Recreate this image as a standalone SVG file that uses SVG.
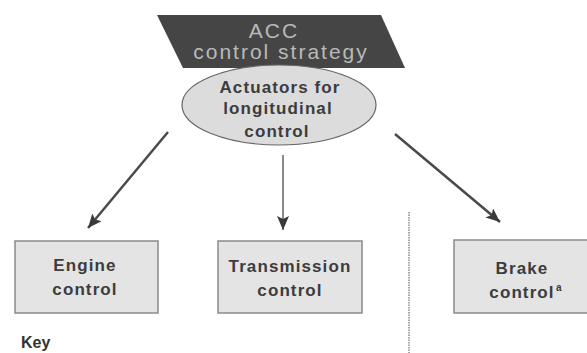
<svg xmlns="http://www.w3.org/2000/svg" width="587" height="353" viewBox="0 0 587 353">
<style>
.box{fill:#e4e4e4;stroke:#8a8a8a;stroke-width:1.5}
.t{font-family:"Liberation Sans",Arial,sans-serif;font-size:17px;font-weight:bold;fill:#3c3c3c;text-anchor:middle;letter-spacing:1.1px}
.head{font-family:"Liberation Sans",Arial,sans-serif;font-size:21px;fill:#b9b9b9;text-anchor:middle;letter-spacing:2px}
.conn{stroke:#4a4a4a;fill:none}
</style>
<defs>
<marker id="ah" viewBox="0 0 14 12" refX="14" refY="6" markerWidth="14" markerHeight="12" markerUnits="userSpaceOnUse" orient="auto">
<path d="M0,0 L14,6 L0,12 L3,6 z" fill="#3a3a3a"/>
</marker>
</defs>
<rect width="587" height="353" fill="#ffffff"/>
<g id="strategy">
<polygon points="157,15 381,15 405,68 183,68" fill="#454545"/>
<text class="head" x="274" y="38">ACC</text>
<text class="head" x="281" y="59">control strategy</text>
</g>
<g id="actuators">
<ellipse cx="279" cy="105" rx="97" ry="40" fill="#dcdcdc" stroke="#666" stroke-width="1.2"/>
<text class="t" x="280" y="93">Actuators for</text>
<text class="t" x="278" y="114">longitudinal</text>
<text class="t" x="277" y="137">control</text>
</g>
<g id="connectors">
<line class="conn" x1="168" y1="132" x2="88" y2="228" stroke-width="2.5" marker-end="url(#ah)"/>
<line class="conn" x1="283" y1="155" x2="283" y2="230" stroke-width="1.3" marker-end="url(#ah)"/>
<line class="conn" x1="395" y1="134" x2="500" y2="222" stroke-width="2.5" marker-end="url(#ah)"/>
</g>
<g id="engine">
<rect class="box" x="15" y="241" width="143" height="72"/>
<text class="t" x="85" y="271">Engine</text>
<text class="t" x="85" y="295">control</text>
</g>
<g id="transmission">
<rect class="box" x="218" y="241" width="144" height="72"/>
<text class="t" x="290" y="272">Transmission</text>
<text class="t" x="290" y="296">control</text>
</g>
<g id="separator">
<line x1="409" y1="212" x2="409" y2="353" stroke="#8a8a8a" stroke-width="1.5" stroke-dasharray="1.5,1"/>
</g>
<g id="brake">
<rect class="box" x="454" y="240" width="142" height="73"/>
<text class="t" x="522" y="274">Brake</text>
<text class="t" x="522" y="298">control</text>
<text x="556" y="291" font-family="Liberation Sans,Arial,sans-serif" font-size="10" font-weight="bold" fill="#3c3c3c">a</text>
</g>
<g id="key">
<text x="21" y="348" font-family="Liberation Sans,Arial,sans-serif" font-size="16" font-weight="bold" fill="#333">Key</text>
</g>
</svg>
